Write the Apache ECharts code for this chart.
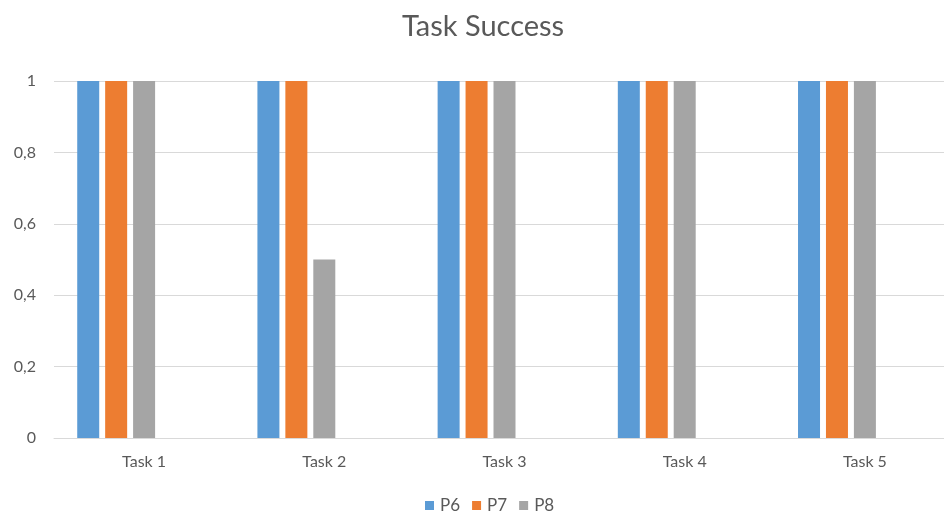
<!DOCTYPE html>
<html>
<head>
<meta charset="utf-8">
<script src="https://cdn.jsdelivr.net/npm/echarts@6/dist/echarts.min.js"></script>
<style>
  html, body { margin: 0; padding: 0; background: #fff; }
  #chart { width: 944px; height: 513px; }
</style>
</head>
<body>
<div id="chart"></div>
<script>
// Task completion per participant
const categories = ['Task 1', 'Task 2', 'Task 3', 'Task 4', 'Task 5'];
const seriesNames = ['P6', 'P7', 'P8'];
const p6 = [1, 1, 1, 1, 1];
const p7 = [1, 1, 1, 1, 1];
const p8 = [1, 0.5, 1, 1, 1];
const colors = ['#5B9BD5', '#ED7D31', '#A5A5A5'];
const yTicks = [0, 0.2, 0.4, 0.6, 0.8, 1];

const fontFamily = 'Lato, "Open Sans", sans-serif';
const textColor = '#595959';

const values = [p6, p7, p8];
const series = seriesNames.map((name, i) => ({
  name,
  type: 'bar',
  data: values[i],
  barWidth: 22,
  barGap: '27%',
  itemStyle: { color: colors[i] }
}));
// two empty slots keep the cluster laid out as five columns wide
['', ' '].forEach(n => series.push({ name: n, type: 'bar', data: categories.map(() => null), barWidth: 22 }));

const chart = echarts.init(document.getElementById('chart'), null, { renderer: 'canvas' });
chart.setOption({
  animation: false,
  backgroundColor: '#ffffff',
  title: {
    text: 'Task Success',
    left: 397,
    top: 7,
    textStyle: { fontFamily, fontSize: 29, fontWeight: 'normal', color: textColor }
  },
  legend: {
    data: seriesNames,
    top: 492,
    left: 420,
    padding: 5,
    itemWidth: 9,
    itemHeight: 9,
    itemGap: 12,
    icon: 'rect',
    textStyle: { fontFamily, fontSize: 17, color: textColor, padding: [0, 0, 0, 1] }
  },
  grid: { left: 54, top: 81, width: 901, height: 357, containLabel: false, outerBoundsMode: 'none' },
  xAxis: {
    type: 'category',
    data: categories,
    axisTick: { show: false },
    axisLine: { lineStyle: { color: '#D9D9D9', width: 1 } },
    axisLabel: { fontFamily, fontSize: 16, color: textColor, margin: 16 }
  },
  yAxis: {
    type: 'value',
    min: yTicks[0],
    max: yTicks[yTicks.length - 1],
    interval: 0.2,
    axisLine: { show: false },
    axisTick: { show: false },
    splitLine: { lineStyle: { color: '#D9D9D9', width: 1 } },
    axisLabel: {
      fontFamily, fontSize: 16, color: textColor, margin: 18,
      formatter: v => String(Math.round(v * 10) / 10).replace('.', ',')
    }
  },
  series
});
</script>
</body>
</html>
